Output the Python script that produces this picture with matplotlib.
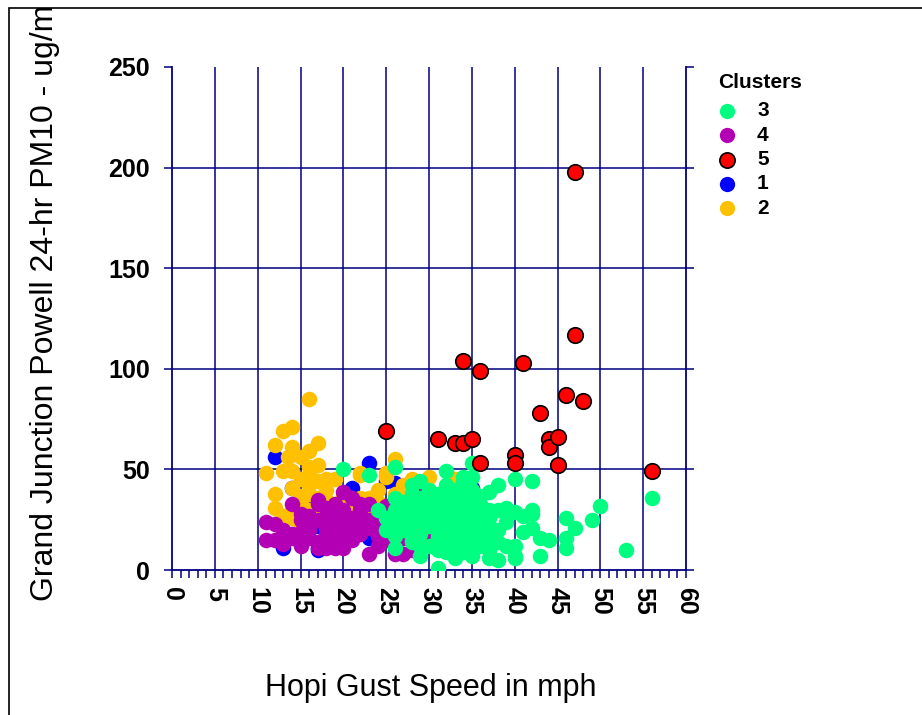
import matplotlib
matplotlib.use("Agg")
import matplotlib.pyplot as plt
from matplotlib.patches import Rectangle
from matplotlib.lines import Line2D

plt.rcParams['font.family'] = ['Liberation Sans', 'DejaVu Sans']

# Cluster 3 (gust speed mph, PM10 ug/m3)
c3_x = [20, 23, 26, 28, 29, 25, 27, 26, 31, 32, 35, 34, 35, 38, 37, 40, 42, 56, 50, 49,
        46, 47, 46, 46, 53, 43, 42, 39, 40, 41, 39, 42, 41, 43, 44, 40, 40, 38, 37, 39,
        36, 37, 42, 37, 40, 29, 33, 35, 36, 33, 32, 31, 28, 26, 28, 28, 29, 26,
        30, 30, 30, 30, 30, 31, 31, 31, 31, 31, 31, 31, 32, 32, 32, 32, 32, 32, 32, 32,
        33, 33, 33, 33, 33, 33, 33, 33, 33, 34, 34, 34, 34, 34, 34, 34, 34, 34,
        35, 35, 35, 35, 35, 35, 35, 35, 36, 36, 36, 36, 36, 36, 37, 37, 37, 37, 37,
        38, 38, 38, 29, 29, 29, 29, 29, 28, 28, 28, 28, 27, 27, 27, 26, 26, 25, 24]
c3_y = [50, 47, 51, 42, 36, 26, 20, 11, 1, 49, 53, 46, 46, 42, 39, 45, 44, 36, 32, 25,
        26, 21, 16, 11, 10, 7, 28, 31, 29, 27, 24, 21, 19, 16, 15, 12, 6, 5, 6, 12,
        31, 28, 30, 20, 7, 7, 6, 7, 12, 12, 11, 16, 15, 24, 25, 35, 28, 36,
        40, 33, 27, 22, 12, 38, 35, 30, 25, 20, 17, 10, 42, 37, 32, 28, 24, 19, 14, 9,
        40, 36, 33, 29, 26, 22, 18, 15, 10, 44, 38, 34, 30, 27, 23, 19, 14, 9,
        40, 36, 32, 28, 24, 20, 15, 10, 37, 33, 25, 22, 18, 13, 30, 26, 22, 17, 10,
        30, 20, 14, 44, 30, 24, 18, 12, 38, 31, 20, 14, 34, 28, 22, 30, 17, 20, 30]

# Cluster 4
c4_x = [11, 11, 12, 12, 14, 14, 14, 15, 15, 15, 16, 16, 16, 17, 17, 17, 17, 18, 18, 18,
        18, 18, 19, 19, 19, 19, 19, 20, 19, 20, 20, 21, 21, 21, 20, 20, 22, 22, 22, 23,
        23, 23, 23, 25, 26, 26, 27, 27, 27, 28, 29, 29, 29, 27, 35, 16, 13, 15, 18, 21,
        22, 24, 24, 25, 20, 17, 13, 30, 32, 24, 25, 28, 34, 30]
c4_y = [24, 15, 23, 15, 33, 18, 16, 12, 28, 25, 16, 22, 27, 33, 25, 11, 35, 31, 18, 11,
        25, 15, 33, 21, 15, 11, 14, 39, 28, 23, 11, 20, 15, 36, 30, 24, 30, 25, 33, 21,
        25, 33, 8, 32, 13, 8, 8, 18, 16, 26, 15, 39, 33, 30, 17, 20, 20, 19, 21, 26,
        18, 24, 17, 27, 18, 14, 13, 14, 18, 12, 15, 10, 17, 16]

# Cluster 5
c5_x = [47, 47, 34, 41, 36, 46, 48, 43, 25, 31, 33, 34, 35, 44, 44, 45, 40, 40, 36, 45, 56]
c5_y = [198, 117, 104, 103, 99, 87, 84, 78, 69, 65, 63, 63, 65, 65, 61, 66, 57, 53, 53, 52, 49]

# Cluster 1
c1_x = [12, 23, 14, 13, 23, 24, 17, 17, 21, 26, 32, 35, 36, 17, 21, 17, 25, 16, 18, 35, 20, 26]
c1_y = [56, 53, 41, 11, 16, 14, 25, 11, 41, 43, 11, 41, 16, 10, 39, 22, 44, 35, 28, 38, 13, 12]

# Cluster 2
c2_x = [16, 14, 13, 17, 12, 14, 16, 15, 13.5, 11, 13, 14, 16, 22, 25, 26, 12, 12, 13, 14,
        15, 15, 13, 18, 19, 18, 15, 17, 16, 22, 25, 22, 23, 21, 23, 24, 27, 27, 30, 33,
        22, 16, 16, 16, 17, 20, 20, 19, 14, 17, 24, 26, 28, 17, 15, 18, 14, 28, 26]
c2_y = [85, 71, 69, 63, 62, 61, 59, 56, 56, 48, 49, 49, 51, 48, 48, 55, 38, 31, 27, 26,
        37, 22, 19, 45, 45, 40, 35, 36, 30, 47, 46, 36, 36, 31, 30, 40, 42, 36, 46, 45,
        26, 47, 42, 38, 44, 37, 28, 24, 41, 52, 34, 38, 35, 30, 45, 35, 30, 45, 24]

legend_order = ['3', '4', '5', '1', '2']
x_ticks = list(range(0, 61, 5))
y_ticks = list(range(0, 251, 50))

NAVY = '#000080'
COL = {'3': '#00FF80', '4': '#B400B4', '5': '#FF0000', '1': '#0000FF', '2': '#FFC000'}

W, H = 922, 715
fig = plt.figure(figsize=(W / 100, H / 100), dpi=100)
ax = fig.add_axes([172 / W, 1 - 570 / H, (686 - 172) / W, (570 - 67) / H])
ax.set_xlim(0, 60)
ax.set_ylim(0, 250)

# grid (no line along the top edge)
ax.vlines(x_ticks[1:-1], 0, 250, colors=NAVY, lw=1.1, zorder=1)
ax.hlines(y_ticks[1:-1], 0, 60, colors=NAVY, lw=1.1, zorder=1)

ms = 125
ax.scatter(c1_x, c1_y, s=ms, c=COL['1'], lw=0, zorder=3)
ax.scatter(c2_x, c2_y, s=ms, c=COL['2'], lw=0, zorder=3)
ax.scatter(c4_x, c4_y, s=ms, c=COL['4'], lw=0, zorder=3)
ax.scatter(c3_x, c3_y, s=ms, c=COL['3'], lw=0, zorder=3)
ax.scatter(c5_x, c5_y, s=ms, c=COL['5'], edgecolors='black', lw=1.2, zorder=4)

for side in ['left', 'bottom', 'right']:
    ax.spines[side].set_color(NAVY)
    ax.spines[side].set_linewidth(1.3)
ax.spines['top'].set_visible(False)

ax.set_xticks(x_ticks)
ax.set_xticks(range(0, 61), minor=True)
ax.set_yticks(y_ticks)
ax.tick_params(axis='x', which='both', direction='out', length=6, width=1.1,
               color=NAVY, pad=6, labelsize=18, labelrotation=-90)
ax.tick_params(axis='y', which='both', direction='out', length=6, width=1.1,
               color=NAVY, pad=10, labelsize=18, left=True, right=True,
               labelleft=True, labelright=False)
for lab in ax.get_xticklabels() + ax.get_yticklabels():
    lab.set_fontweight('bold')

# legend block on the right
fig.text(718 / W, 1 - 82 / H, 'Clusters', fontsize=15, fontweight='bold',
         ha='left', va='center')
for i, k in enumerate(legend_order):
    yy = 1 - (111 + i * 24.3) / H
    fig.add_artist(Line2D([727 / W], [yy], transform=fig.transFigure, ls='none',
                          marker='o', ms=11, mfc=COL[k],
                          mec='black' if k == '5' else COL[k],
                          mew=1.2 if k == '5' else 0))
    fig.text(757 / W, yy, k, fontsize=15, fontweight='bold', ha='left', va='center')

fig.text(431 / W, 1 - 688 / H, 'Hopi Gust Speed in mph', fontsize=22,
         ha='center', va='center')
fig.text(45 / W, 1 - 601 / H, 'Grand Junction Powell 24-hr PM10 - ug/m\u00b3', fontsize=23,
         rotation=90, ha='center', va='bottom')

# outer frame
fig.add_artist(Rectangle((0, 1 - 8 / H), 1, 8 / H, transform=fig.transFigure,
                         fc='white', ec='none', zorder=10))
fig.add_artist(Rectangle((9 / W, -0.1), 1.5, 1 - 8 / H + 0.1, transform=fig.transFigure,
                         fill=False, ec='black', lw=1.2, zorder=11))

fig.savefig('out.png', dpi=100)
